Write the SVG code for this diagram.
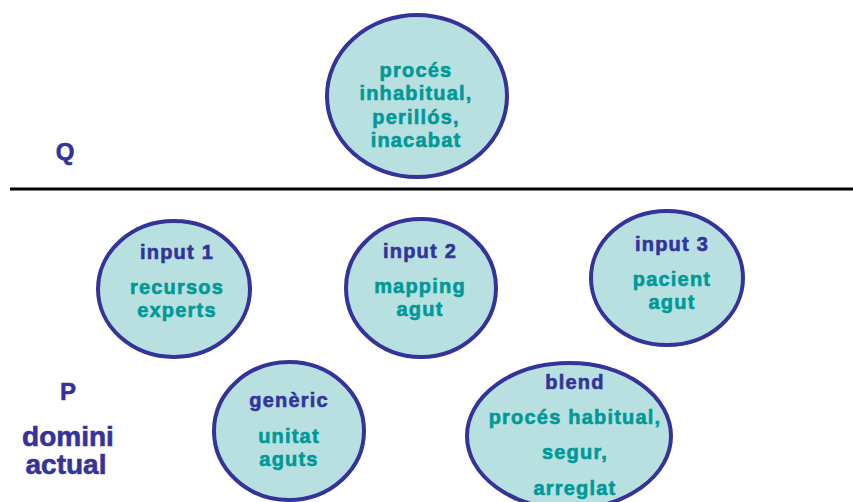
<svg xmlns="http://www.w3.org/2000/svg" width="853" height="502" viewBox="0 0 853 502">
  <style>
    .node { fill: #b9e0e0; stroke: #333399; stroke-width: 4; }
    text { font-family: "Liberation Sans", Arial, sans-serif; font-weight: bold; text-anchor: middle; stroke-width: 0.6px; }
    .t { fill: #009999; stroke: #009999; font-size: 20px; letter-spacing: 1.2px; }
    .h { fill: #333399; stroke: #333399; font-size: 20px; letter-spacing: 1.2px; }
    .side { fill: #333399; stroke: #333399; }
  </style>
  <rect width="853" height="502" fill="#ffffff"/>

  <!-- divider between Q and P domains -->
  <g id="connectors">
    <line x1="10" y1="189" x2="853" y2="189" stroke="#000000" stroke-width="3"/>
  </g>

  <text class="side" x="65" y="160" font-size="24">Q</text>
  <text class="side" x="68" y="400" font-size="24">P</text>
  <text class="side" x="68" y="446" font-size="28">domini</text>
  <text class="side" x="66" y="474" font-size="28">actual</text>

  <g id="node-q">
    <ellipse class="node" cx="417" cy="96" rx="90" ry="81"/>
    <text class="t" x="416" y="77">procés</text>
    <text class="t" x="416" y="100">inhabitual,</text>
    <text class="t" x="416" y="124">perillós,</text>
    <text class="t" x="416" y="147">inacabat</text>
  </g>

  <g id="node-input1">
    <ellipse class="node" cx="174" cy="289" rx="76" ry="68"/>
    <text class="h" x="177" y="259">input 1</text>
    <text class="t" x="177" y="294">recursos</text>
    <text class="t" x="177" y="317">experts</text>
  </g>

  <g id="node-input2">
    <ellipse class="node" cx="421" cy="288" rx="75" ry="69"/>
    <text class="h" x="420" y="258">input 2</text>
    <text class="t" x="420" y="293">mapping</text>
    <text class="t" x="420" y="316">agut</text>
  </g>

  <g id="node-input3">
    <ellipse class="node" cx="667" cy="278" rx="76" ry="67"/>
    <text class="h" x="672" y="251">input 3</text>
    <text class="t" x="672" y="286">pacient</text>
    <text class="t" x="672" y="309">agut</text>
  </g>

  <g id="node-generic">
    <ellipse class="node" cx="289" cy="431" rx="75" ry="69"/>
    <text class="h" x="289" y="407">genèric</text>
    <text class="t" x="289" y="443">unitat</text>
    <text class="t" x="289" y="466">aguts</text>
  </g>

  <g id="node-blend">
    <ellipse class="node" cx="569" cy="436" rx="102" ry="73"/>
    <text class="h" x="575" y="389">blend</text>
    <text class="t" x="575" y="424">procés habitual,</text>
    <text class="t" x="575" y="459">segur,</text>
    <text class="t" x="575" y="495">arreglat</text>
  </g>
</svg>
